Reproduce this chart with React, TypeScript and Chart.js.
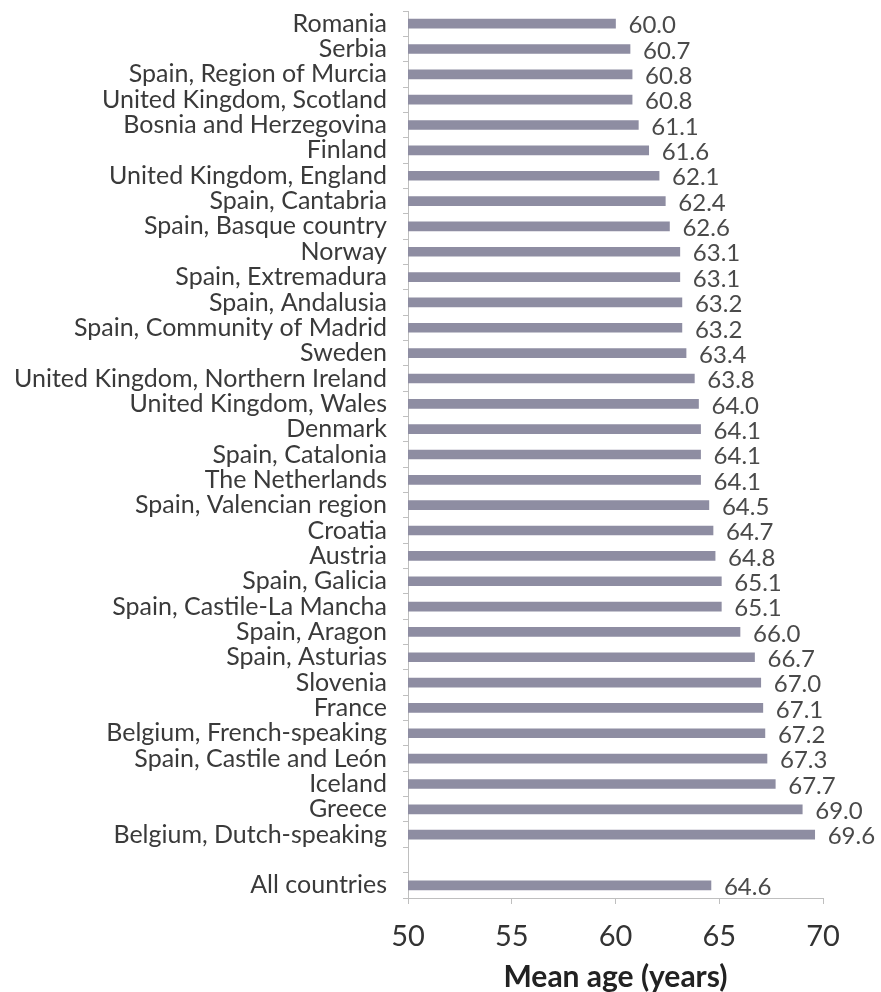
import React, { useEffect, useRef } from 'react';
import { Chart, registerables } from 'chart.js';

Chart.register(...registerables);

const categories: string[] = [
  'Romania',
  'Serbia',
  'Spain, Region of Murcia',
  'United Kingdom, Scotland',
  'Bosnia and Herzegovina',
  'Finland',
  'United Kingdom, England',
  'Spain, Cantabria',
  'Spain, Basque country',
  'Norway',
  'Spain, Extremadura',
  'Spain, Andalusia',
  'Spain, Community of Madrid',
  'Sweden',
  'United Kingdom, Northern Ireland',
  'United Kingdom, Wales',
  'Denmark',
  'Spain, Catalonia',
  'The Netherlands',
  'Spain, Valencian region',
  'Croatia',
  'Austria',
  'Spain, Galicia',
  'Spain, Castile-La Mancha',
  'Spain, Aragon',
  'Spain, Asturias',
  'Slovenia',
  'France',
  'Belgium, French-speaking',
  'Spain, Castile and León',
  'Iceland',
  'Greece',
  'Belgium, Dutch-speaking',
  '',
  'All countries',
];

const meanAges: (number | null)[] = [
  60.0, 60.7, 60.8, 60.8, 61.1, 61.6, 62.1, 62.4, 62.6, 63.1, 63.1, 63.2, 63.2,
  63.4, 63.8, 64.0, 64.1, 64.1, 64.1, 64.5, 64.7, 64.8, 65.1, 65.1, 66.0, 66.7,
  67.0, 67.1, 67.2, 67.3, 67.7, 69.0, 69.6, null, 64.6,
];

const xMin = 50;
const xMax = 70;
const xStep = 5;
const xTitle = 'Mean age (years)';

const FONT = 'Lato, "Open Sans", sans-serif';

const valueLabels = {
  id: 'valueLabels',
  afterDatasetsDraw(chart: any) {
    const ctx = chart.ctx;
    const meta = chart.getDatasetMeta(0);
    ctx.save();
    ctx.font = `24px ${FONT}`;
    ctx.fillStyle = '#4a4a4a';
    ctx.textAlign = 'left';
    ctx.textBaseline = 'middle';
    meta.data.forEach((el: any, i: number) => {
      const v = meanAges[i];
      if (v === null || v === undefined) return;
      ctx.fillText(v.toFixed(1), el.x + 13, el.y + 2);
    });
    ctx.restore();
  },
};

export default function App() {
  const ref = useRef<HTMLCanvasElement | null>(null);

  useEffect(() => {
    if (!ref.current) return;
    const chart = new Chart(ref.current, {
      type: 'bar',
      data: {
        labels: categories,
        datasets: [
          {
            data: meanAges,
            backgroundColor: '#8e8da2',
            borderWidth: 0,
            barThickness: 9,
          },
        ],
      },
      options: {
        indexAxis: 'y',
        animation: false,
        responsive: false,
        maintainAspectRatio: false,
        layout: { padding: { top: 11, right: 58, bottom: 0, left: 0 } },
        plugins: {
          legend: { display: false },
          tooltip: { enabled: false },
        },
        scales: {
          x: {
            type: 'linear',
            min: xMin,
            max: xMax,
            ticks: {
              stepSize: xStep,
              color: '#333333',
              font: { family: FONT, size: 29 },
              padding: 15,
            },
            grid: {
              display: true,
              drawOnChartArea: false,
              tickLength: 6,
              color: '#bfbfbf',
            },
            border: { display: true, color: '#bfbfbf', width: 1 },
            title: {
              display: true,
              text: xTitle,
              color: '#222222',
              font: { family: FONT, size: 30, weight: 'bold', lineHeight: 1.0 },
              padding: 0,
            },
            afterFit(scale: any) {
              scale.height = 94;
              scale.paddingLeft = 0;
              scale.paddingRight = 0;
            },
          },
          y: {
            type: 'category',
            offset: true,
            ticks: {
              autoSkip: false,
              color: '#3a3a3a',
              font: { family: FONT, size: 25 },
              padding: 16,
            },
            grid: {
              display: true,
              offset: true,
              drawOnChartArea: false,
              tickLength: 5,
              color: '#bfbfbf',
            },
            border: { display: true, color: '#bfbfbf', width: 1 },
            afterFit(scale: any) {
              scale.width = 408;
              scale.paddingTop = 0;
              scale.paddingBottom = 0;
            },
          },
        },
      },
      plugins: [valueLabels],
    });
    return () => chart.destroy();
  }, []);

  return (
    <div style={{ position: 'fixed', left: 0, top: 0, width: 881, height: 992, background: '#ffffff' }}>
      <canvas ref={ref} width={881} height={992} style={{ width: 881, height: 992, display: 'block' }} />
    </div>
  );
}
